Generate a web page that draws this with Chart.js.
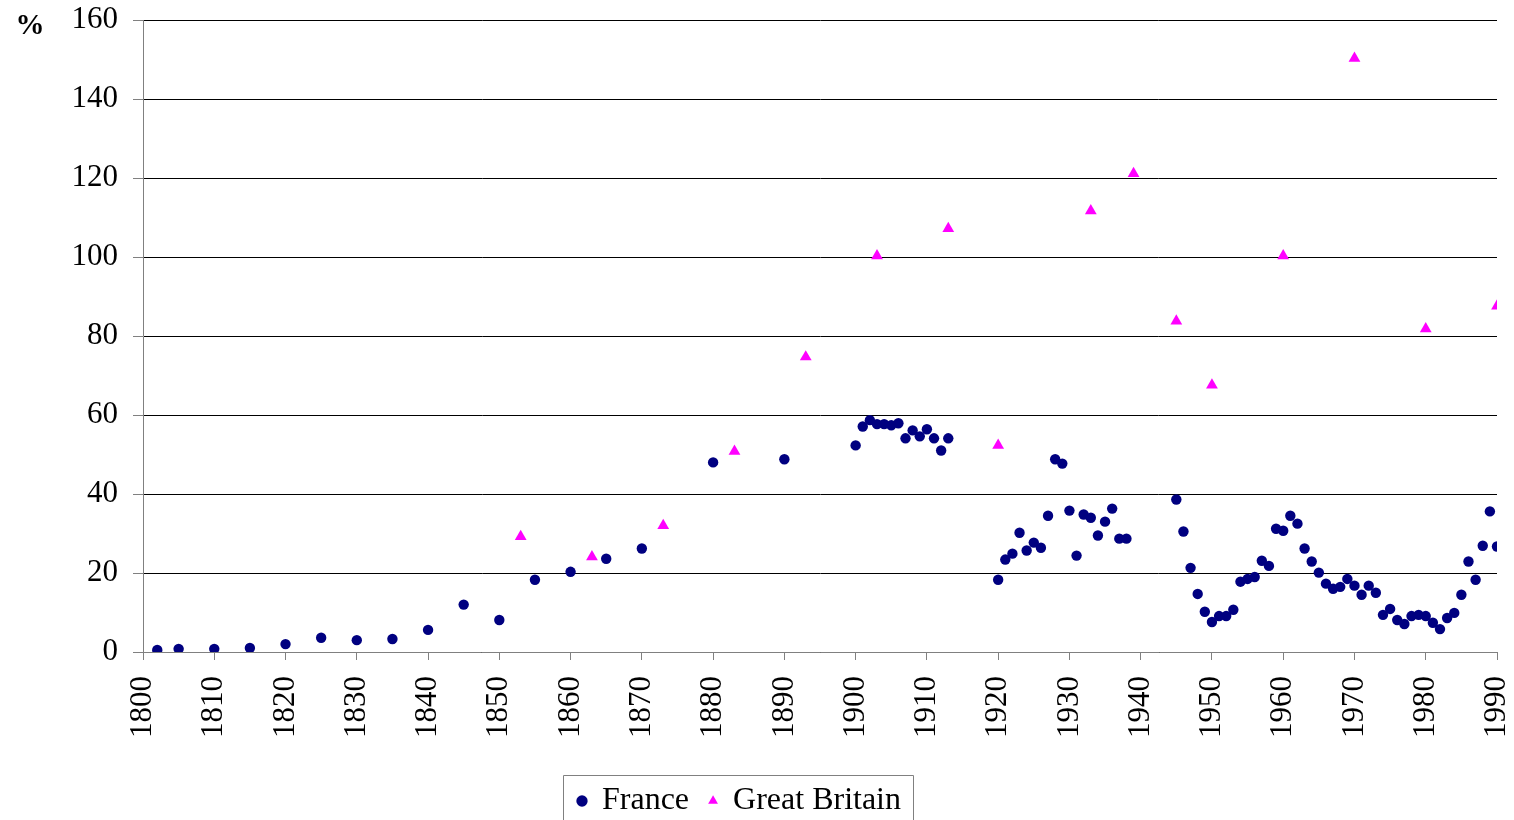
<!DOCTYPE html>
<html>
<head>
<meta charset="utf-8">
<script src="https://cdn.jsdelivr.net/npm/chart.js@4/dist/chart.umd.min.js"></script>
<style>
  html, body { margin:0; padding:0; background:#fff; }
  #wrap { width:1514px; height:820px; position:relative; }
</style>
</head>
<body>
<div id="wrap"><canvas id="c" width="1514" height="820"></canvas></div>
<script>
// France: year / value (%)
const franceYears = [1802,1805,1810,1815,1820,1825,1830,1835,1840,1845,1850,1855,1860,1865,1870,1880,1890,
  1900,1901,1902,1903,1904,1905,1906,1907,1908,1909,1910,1911,1912,1913,
  1920,1921,1922,1923,1924,1925,1926,1927,1928,1929,1930,1931,1932,1933,1934,1935,1936,1937,1938,
  1945,1946,1947,1948,1949,1950,1951,1952,1953,1954,1955,1956,1957,1958,1959,1960,1961,1962,1963,1964,
  1965,1966,1967,1968,1969,1970,1971,1972,1973,1974,1975,1976,1977,1978,1979,1980,1981,1982,1983,1984,
  1985,1986,1987,1988,1989,1990];
const franceValues = [0.5,0.8,0.8,1.0,2.0,3.6,3.0,3.3,5.6,12.0,8.1,18.3,20.3,23.6,26.2,48.0,48.8,
  52.3,57.1,58.7,57.7,57.7,57.4,57.9,54.1,56.1,54.6,56.4,54.1,51.0,54.1,
  18.3,23.4,24.9,30.2,25.7,27.7,26.4,34.5,48.8,47.7,35.8,24.4,34.8,34.0,29.5,33.0,36.3,28.7,28.7,
  38.6,30.5,21.3,14.7,10.2,7.6,9.1,9.1,10.7,17.8,18.5,19.0,23.1,21.8,31.2,30.7,34.5,32.5,26.2,22.9,
  20.1,17.3,16.0,16.5,18.5,16.8,14.5,16.8,15.0,9.4,10.9,8.1,7.1,9.1,9.4,9.1,7.4,5.8,8.6,9.9,
  14.5,22.9,18.3,26.9,35.6,26.7];

// Great Britain
const britainYears = [1853,1863,1873,1883,1893,1903,1913,1920,1933,1939,1945,1950,1960,1970,1980,1990];
const britainValues = [29.2,24.1,32.0,50.8,74.7,100.3,107.2,52.3,111.7,121.1,83.8,67.6,100.3,150.3,81.8,87.6];

const seriesNames = ['France','Great Britain'];
const yUnit = '%';

const FONT = "'Liberation Serif','Times New Roman',serif";

const toPoints = (xs, ys) => xs.map((x, i) => ({x:x, y:ys[i]}));

// nudge the legend a little left/down, like the original
const legendShift = {
  id:'legendShift',
  afterLayout(chart){
    const l = chart.legend;
    l.left -= 9; l.right -= 9;
    l.top += 7; l.bottom += 7;
  }
};

const legendBox = {
  id:'legendBox',
  afterDraw(chart){
    const l = chart.legend, boxes = l.legendHitBoxes;
    if (!boxes || !boxes.length) return;
    const ctx = chart.ctx;
    const first = boxes[0], last = boxes[boxes.length-1];
    const left = Math.round(first.left - 15), right = Math.round(last.left + last.width + 12);
    const top = Math.round(l.top + 10);
    ctx.save();
    ctx.strokeStyle = '#808080';
    ctx.lineWidth = 1;
    ctx.beginPath();
    ctx.moveTo(left + 0.5, 830);
    ctx.lineTo(left + 0.5, top + 0.5);
    ctx.lineTo(right + 0.5, top + 0.5);
    ctx.lineTo(right + 0.5, 830);
    ctx.stroke();
    ctx.restore();
  }
};

const unitLabel = {
  id:'unitLabel',
  afterDraw(chart){
    const ctx = chart.ctx;
    ctx.save();
    ctx.font = 'bold 29px ' + FONT;
    ctx.fillStyle = '#000';
    ctx.textAlign = 'center';
    ctx.textBaseline = 'middle';
    ctx.fillText(yUnit, 30, 27);
    ctx.restore();
  }
};

new Chart(document.getElementById('c').getContext('2d'), {
  type:'scatter',
  data:{datasets:[
    {label:seriesNames[0], data:toPoints(franceYears, franceValues), pointStyle:'circle',
     pointRadius:5.2, backgroundColor:'#000080', borderColor:'#000080', borderWidth:0},
    {label:seriesNames[1], data:toPoints(britainYears, britainValues), pointStyle:'triangle',
     pointRadius:6.8, backgroundColor:'#FF00FF', borderColor:'#FF00FF', borderWidth:0}
  ]},
  plugins:[legendShift, legendBox, unitLabel],
  options:{
    responsive:false, animation:false, devicePixelRatio:1,
    layout:{padding:{top:20, right:17, left:0, bottom:0}},
    plugins:{
      tooltip:{enabled:false},
      legend:{
        position:'bottom',
        labels:{usePointStyle:true, boxWidth:8, boxHeight:8, padding:20, color:'#000',
                font:{family:FONT, size:32}}
      }
    },
    scales:{
      x:{
        type:'linear', min:1800, max:1990,
        afterFit:s => { s.height = 106; s.paddingLeft = 0; s.paddingRight = 0; },
        border:{color:'#808080', width:1},
        grid:{drawOnChartArea:false, drawTicks:true, tickLength:8, color:'#808080'},
        ticks:{stepSize:10, minRotation:90, maxRotation:90, padding:16, color:'#000',
               font:{family:FONT, size:31}, callback:v => String(v)}
      },
      y:{
        min:0, max:160,
        afterFit:s => { s.width = 143; s.paddingTop = 0; s.paddingBottom = 0; },
        border:{color:'#808080', width:1},
        grid:{color:'#000', lineWidth:1, tickLength:10, tickColor:'#808080'},
        ticks:{stepSize:20, padding:15, color:'#000', font:{family:FONT, size:31}}
      }
    }
  }
});
</script>
</body>
</html>
